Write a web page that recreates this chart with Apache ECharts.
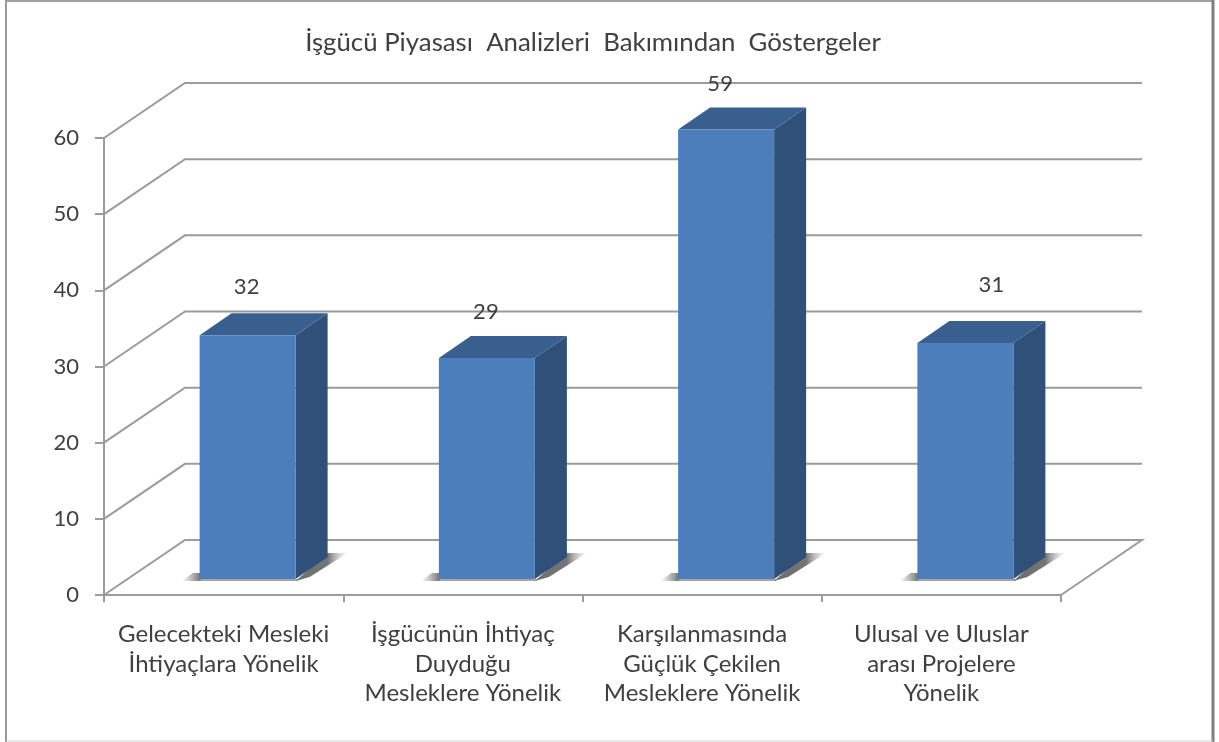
<!DOCTYPE html>
<html>
<head>
<meta charset="utf-8">
<title>İşgücü Piyasası Analizleri</title>
<style>
    html, body { margin: 0; padding: 0; background: #fff; }
    #main { width: 1219px; height: 742px; }
</style>
<script src="https://cdn.jsdelivr.net/npm/echarts@6/dist/echarts.min.js"></script>
</head>
<body>
<div id="main"></div>
<script>
var titleText = 'İşgücü Piyasası  Analizleri  Bakımından  Göstergeler';
var categories = [
    'Gelecekteki Mesleki\nİhtiyaçlara Yönelik',
    'İşgücünün İhtiyaç\nDuyduğu\nMesleklere Yönelik',
    'Karşılanmasında\nGüçlük Çekilen\nMesleklere Yönelik',
    'Ulusal ve Uluslar\narası Projelere\nYönelik'
];
var values = [32, 29, 59, 31];
var yTicks = [0, 10, 20, 30, 40, 50, 60];

// hand placed labels in the original, offset from the bar centre
var labelNudgeX = [-1, -1, -6, 26];
var labelNudgeY = [-48, -46, -46, -58];

var FONT = 'Lato, "Open Sans", sans-serif';
var GRID_COLOR = '#9b9b9b';
var WALL_DX = 81, WALL_DY = -55;   // back wall offset
var BAR_DX = 32, BAR_DY = -22;     // bar depth
var BAR_SHIFT_X = 24, BAR_SHIFT_Y = -16; // bar sits inside the floor
var BAR_W = 96;

var chart = echarts.init(document.getElementById('main'));

function poly(points, fill) {
    return {type: 'polygon', shape: {points: points}, style: {fill: fill}};
}

// horizontal fade used for the shadow on the floor
function fadeX(colors) {
    return new echarts.graphic.LinearGradient(0, 0, 1, 0, colors);
}

function renderWall(params, api) {
    var cs = params.coordSys;
    var y = api.coord([0, api.value(1)])[1];
    var pts = [[cs.x, y], [cs.x + WALL_DX, y + WALL_DY], [cs.x + cs.width + WALL_DX, y + WALL_DY]];
    if (api.value(1) === 0) {
        pts.push([cs.x + cs.width, y]);
    }
    return {
        type: 'polyline',
        shape: {points: pts},
        style: {fill: 'none', stroke: GRID_COLOR, lineWidth: 2}
    };
}

function renderBar(params, api) {
    var i = api.value(0);
    var base = api.coord([i, 0]);
    var top = api.coord([i, api.value(1)]);
    var l = base[0] - BAR_W / 2 + BAR_SHIFT_X;
    var r = l + BAR_W;
    var b = base[1] + BAR_SHIFT_Y;
    var t = top[1] + BAR_SHIFT_Y;
    return {
        type: 'group',
        children: [
            // floor shadow
            poly([[l - 18, b + 2], [l - 7, b - 6], [l + 1, b - 6], [l + 1, b + 2]],
                fadeX([{offset: 0, color: 'rgba(130,130,130,0)'}, {offset: 1, color: 'rgba(105,105,105,0.95)'}])),
            poly([[l, b], [r + 2, b], [r + 2, b + 2], [l, b + 2]], 'rgba(135,135,135,0.75)'),
            poly([[r, b + 2], [r + BAR_DX, b + BAR_DY - 4], [r + BAR_DX + 20, b + BAR_DY - 4], [r + 14, b - 2]],
                fadeX([{offset: 0, color: '#6d6d6d'}, {offset: 0.62, color: 'rgba(110,110,110,0.95)'}, {offset: 1, color: 'rgba(170,170,170,0)'}])),
            // side, top, front
            poly([[r, b], [r + BAR_DX, b + BAR_DY], [r + BAR_DX, t + BAR_DY], [r, t]], '#2f5179'),
            poly([[l, t], [l + BAR_DX, t + BAR_DY], [r + BAR_DX, t + BAR_DY], [r, t]], '#395f8e'),
            {
                type: 'rect',
                shape: {x: l, y: t, width: BAR_W, height: b - t},
                style: {fill: '#4c7ebc'}
            },
            {
                type: 'text',
                style: {
                    text: String(api.value(1)),
                    x: base[0] + BAR_SHIFT_X + labelNudgeX[i],
                    y: t + labelNudgeY[i],
                    align: 'center',
                    verticalAlign: 'middle',
                    font: '22px ' + FONT,
                    fill: '#404040'
                }
            }
        ]
    };
}

chart.setOption({
    animation: false,
    backgroundColor: '#fff',
    title: {
        text: titleText,
        left: 588,
        top: 25,
        textAlign: 'center',
        textStyle: {fontFamily: FONT, fontSize: 25.8, fontWeight: 'normal', color: '#404040'}
    },
    grid: {left: 104, right: 158, top: 138, bottom: 147},
    xAxis: {
        type: 'category',
        data: categories,
        axisLine: {lineStyle: {color: GRID_COLOR, width: 2}},
        axisTick: {show: true, length: 7, lineStyle: {color: GRID_COLOR, width: 2}},
        axisLabel: {interval: 0, margin: 25, lineHeight: 29.5, fontFamily: FONT, fontSize: 24, color: '#404040'}
    },
    yAxis: {
        type: 'value',
        min: 0,
        max: 60,
        interval: 10,
        splitLine: {show: false},
        axisLine: {show: true, lineStyle: {color: GRID_COLOR, width: 2}},
        axisTick: {show: true, length: 9, lineStyle: {color: GRID_COLOR, width: 2}},
        axisLabel: {margin: 25, padding: [4, 0, 0, 0], fontFamily: FONT, fontSize: 22, color: '#404040'}
    },
    graphic: [
        {type: 'line', shape: {x1: 6, y1: 0, x2: 6, y2: 742}, style: {stroke: '#9a9a9a', lineWidth: 2}},
        {type: 'line', shape: {x1: 6, y1: 1, x2: 1213, y2: 1}, style: {stroke: '#a0a0a0', lineWidth: 2}},
        {type: 'line', shape: {x1: 1213, y1: 0, x2: 1213, y2: 742}, style: {stroke: '#808080', lineWidth: 3}},
        {type: 'line', shape: {x1: 6, y1: 741, x2: 1213, y2: 741}, style: {stroke: '#d0d0d0', lineWidth: 1}}
    ],
    series: [
        {
            type: 'custom',
            z: 1,
            clip: false,
            renderItem: renderWall,
            encode: {x: 0, y: 1},
            data: yTicks.map(function (v) { return [0, v]; })
        },
        {
            type: 'custom',
            z: 3,
            clip: false,
            renderItem: renderBar,
            encode: {x: 0, y: 1},
            data: values.map(function (v, i) { return [i, v]; })
        }
    ]
});
</script>
</body>
</html>
